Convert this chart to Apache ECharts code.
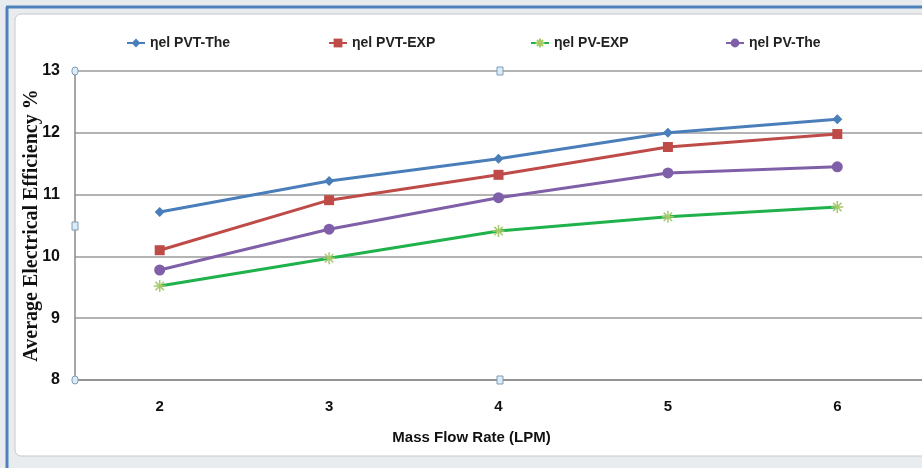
<!DOCTYPE html>
<html>
<head>
<meta charset="utf-8">
<script src="https://cdn.jsdelivr.net/npm/echarts@6/dist/echarts.min.js"></script>
<style>
  html, body { margin: 0; padding: 0; background: #ffffff; }
  #chart { width: 922px; height: 468px; }
</style>
</head>
<body>
<div id="chart"></div>
<script>
  // flow rates (LPM)
  var flowRates = ['2', '3', '4', '5', '6'];
  // average electrical efficiency %
  var pvtThe = [10.72, 11.22, 11.58, 12.0, 12.22];
  var pvtExp = [10.10, 10.91, 11.32, 11.77, 11.98];
  var pvExp = [9.52, 9.97, 10.41, 10.64, 10.80];
  var pvThe = [9.78, 10.44, 10.95, 11.35, 11.45];
  var seriesNames = ['ηel PVT-The', 'ηel PVT-EXP', 'ηel PV-EXP', 'ηel PV-The'];

  var asterisk = 'path://M0,5L10,5M5,0L5,10M1.5,1.5L8.5,8.5M8.5,1.5L1.5,8.5';
  var tickFont = "'Liberation Sans Narrow', 'Liberation Sans', sans-serif";

  var myChart = echarts.init(document.getElementById('chart'));

  function legendAt (name, left) {
    return {
      data: [name],
      left: left,
      top: 31,
      itemWidth: 18,
      itemHeight: 11,
      itemGap: 2,
      textStyle: {
        fontFamily: tickFont,
        fontWeight: 'bold',
        fontSize: 14,
        color: '#222'
      }
    };
  }

  // chart-selection handles drawn by the spreadsheet
  function handle (x, y, round) {
    return {
      type: 'rect',
      shape: { x: x - 3, y: y - 4, width: 6, height: 8, r: round ? 3 : 0 },
      style: { fill: '#dcecf7', stroke: '#7f9db9', lineWidth: 1 },
      z: 100
    };
  }

  myChart.setOption({
    animation: false,
    backgroundColor: '#ffffff',
    graphic: [
      { type: 'rect', shape: { x: 0, y: 0, width: 922, height: 468 }, style: { fill: '#e9ecef' }, z: -10 },
      { type: 'rect', shape: { x: 15, y: 14, width: 912, height: 442, r: 6 }, style: { fill: '#ffffff', stroke: '#c8c8c8', lineWidth: 1 }, z: -9 },
      { type: 'line', shape: { x1: 6, y1: 7, x2: 922, y2: 7 }, style: { stroke: '#4f81bd', lineWidth: 3 }, z: -8 },
      { type: 'line', shape: { x1: 7, y1: 7, x2: 7, y2: 468 }, style: { stroke: '#4f81bd', lineWidth: 3 }, z: -8 },
      handle(75, 71, true),
      handle(75, 380, true),
      handle(500, 71, false),
      handle(500, 380, false),
      handle(75, 226, false)
    ],
    legend: [
      legendAt(seriesNames[0], 121),
      legendAt(seriesNames[1], 323),
      legendAt(seriesNames[2], 525),
      legendAt(seriesNames[3], 720)
    ],
    grid: {
      left: 75,
      top: 71,
      width: 850,
      height: 309
    },
    xAxis: {
      type: 'category',
      data: flowRates,
      boundaryGap: true,
      name: 'Mass Flow Rate (LPM)',
      nameLocation: 'middle',
      nameGap: 50,
      nameTextStyle: {
        fontFamily: tickFont,
        fontWeight: 'bold',
        fontSize: 15,
        color: '#111',
        padding: [0, 54, 0, 0]
      },
      axisLine: { lineStyle: { color: '#8a8a8a', width: 1.5 } },
      axisTick: { show: false },
      axisLabel: {
        margin: 19,
        fontFamily: tickFont,
        fontWeight: 'bold',
        fontSize: 15,
        color: '#111'
      }
    },
    yAxis: {
      type: 'value',
      min: 8,
      max: 13,
      interval: 1,
      name: 'Average Electrical Efficiency %',
      nameLocation: 'middle',
      nameGap: 33,
      nameMoveOverlap: false,
      nameTextStyle: {
        fontFamily: "'Liberation Serif', serif",
        fontWeight: 'bold',
        fontSize: 20,
        color: '#111'
      },
      axisLine: { show: true, lineStyle: { color: '#8a8a8a', width: 1.5 } },
      axisTick: { show: false },
      axisLabel: {
        margin: 15,
        fontFamily: tickFont,
        fontWeight: 'bold',
        fontSize: 16,
        color: '#111'
      },
      splitLine: { lineStyle: { color: '#9a9a9a', width: 1.5 } }
    },
    series: [{
      name: seriesNames[0],
      type: 'line',
      data: pvtThe,
      symbol: 'diamond',
      symbolSize: 10,
      color: '#4a7ebb',
      lineStyle: { width: 3 }
    }, {
      name: seriesNames[1],
      type: 'line',
      data: pvtExp,
      symbol: 'rect',
      symbolSize: 10,
      color: '#be4b48',
      lineStyle: { width: 3 }
    }, {
      name: seriesNames[2],
      type: 'line',
      data: pvExp,
      symbol: asterisk,
      symbolSize: 12,
      color: '#1fb14a',
      itemStyle: { color: 'rgba(0,0,0,0)', borderColor: '#a6c96a', borderWidth: 1.5 },
      lineStyle: { width: 3, color: '#1fb14a' }
    }, {
      name: seriesNames[3],
      type: 'line',
      data: pvThe,
      symbol: 'circle',
      symbolSize: 11,
      color: '#7f60a8',
      lineStyle: { width: 3 }
    }]
  });
</script>
</body>
</html>
